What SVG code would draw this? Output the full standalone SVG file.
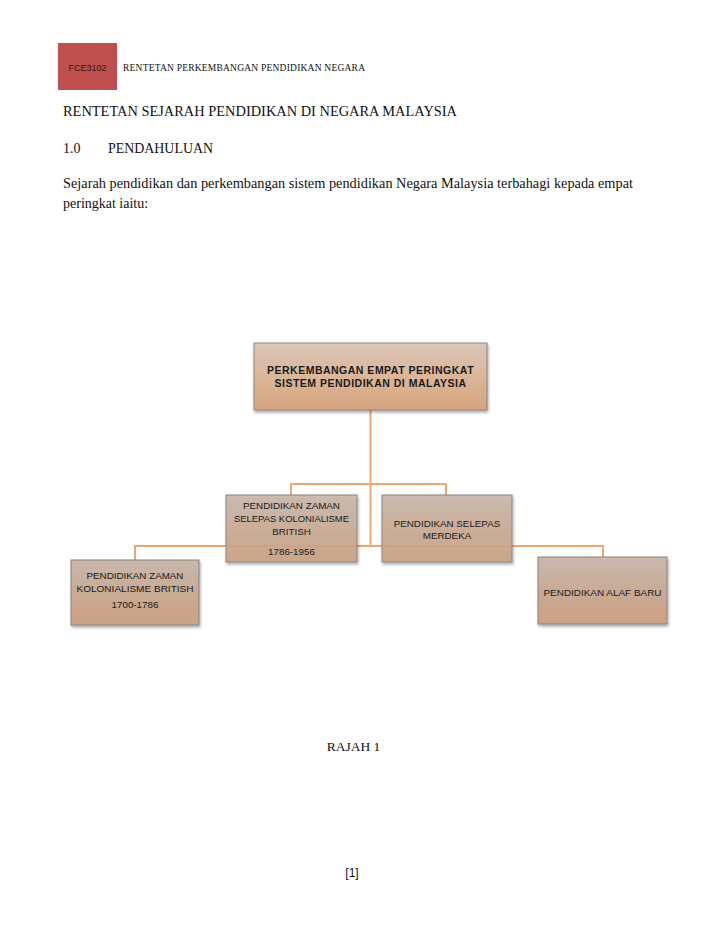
<svg xmlns="http://www.w3.org/2000/svg" width="728" height="942" viewBox="0 0 728 942">
<defs>
<linearGradient id="gTop" x1="0" y1="0" x2="0" y2="1">
<stop offset="0" stop-color="#d9c6b8"/>
<stop offset="0.5" stop-color="#dbb699"/>
<stop offset="1" stop-color="#d7a47e"/>
</linearGradient>
<linearGradient id="gBox" x1="0" y1="0" x2="0" y2="1">
<stop offset="0" stop-color="#c9b8ad"/>
<stop offset="0.5" stop-color="#c9ab95"/>
<stop offset="1" stop-color="#cba183"/>
</linearGradient>
<filter id="sh" x="-10%" y="-10%" width="130%" height="130%">
<feGaussianBlur in="SourceAlpha" stdDeviation="1.5"/>
<feOffset dx="1" dy="2" result="o"/>
<feComponentTransfer><feFuncA type="linear" slope="0.35"/></feComponentTransfer>
<feMerge><feMergeNode/><feMergeNode in="SourceGraphic"/></feMerge>
</filter>
</defs>
<style>
.serif{font-family:"Liberation Serif","Times New Roman",serif;fill:#111;}
.box{stroke:#8a8480;stroke-width:1;filter:url(#sh);}
.lbl{font-family:"Liberation Sans",Arial,sans-serif;font-size:9.8px;fill:#1a1a1a;text-anchor:middle;}
.hd{font-family:"Liberation Sans",Arial,sans-serif;font-weight:bold;font-size:10.5px;fill:#1a1a1a;text-anchor:middle;letter-spacing:0.5px;}
.con{fill:none;stroke:#efa772;stroke-width:2;}
</style>
<rect width="728" height="942" fill="#ffffff"/>
<!-- header -->
<rect x="58" y="43" width="59" height="47" fill="#c0504d"/>
<text x="87.5" y="71" font-family="Liberation Sans,Arial,sans-serif" font-size="9px" fill="#3b1515" text-anchor="middle">FCE3102</text>
<text x="123" y="71" class="serif" font-size="9.5px" textLength="242" lengthAdjust="spacing">RENTETAN PERKEMBANGAN PENDIDIKAN NEGARA</text>
<!-- body text -->
<text x="63" y="116" class="serif" font-size="14px" textLength="394" lengthAdjust="spacingAndGlyphs">RENTETAN SEJARAH PENDIDIKAN DI NEGARA MALAYSIA</text>
<text x="63" y="153" class="serif" font-size="14px">1.0</text>
<text x="108" y="153" class="serif" font-size="14px" textLength="105" lengthAdjust="spacingAndGlyphs">PENDAHULUAN</text>
<text x="63" y="188" class="serif" font-size="14px" textLength="570" lengthAdjust="spacingAndGlyphs">Sejarah pendidikan dan perkembangan sistem pendidikan Negara Malaysia terbahagi kepada empat</text>
<text x="63" y="208" class="serif" font-size="14px">peringkat iaitu:</text>
<!-- connectors -->
<g id="connectors">
<path class="con" d="M370.5,410 V546"/>
<path class="con" d="M291,495 V484 H446 V495"/>
<path class="con" d="M135,560 V546 H603 V557"/>
</g>
<!-- nodes -->
<g id="node-top">
<rect class="box" x="254" y="343" width="233" height="67" fill="url(#gTop)"/>
<text class="hd" x="370.5" y="374">PERKEMBANGAN EMPAT PERINGKAT</text>
<text class="hd" x="370.5" y="387">SISTEM PENDIDIKAN DI MALAYSIA</text>
</g>
<g id="node-selepas-kolonialisme">
<rect class="box" x="226" y="495" width="131" height="67" fill="url(#gBox)" fill-opacity="0.9"/>
<text class="lbl" x="291.5" y="509">PENDIDIKAN ZAMAN</text>
<text class="lbl" x="291.5" y="522" textLength="115" lengthAdjust="spacingAndGlyphs">SELEPAS KOLONIALISME</text>
<text class="lbl" x="291.5" y="535">BRITISH</text>
<text class="lbl" x="291.5" y="555">1786-1956</text>
</g>
<g id="node-merdeka">
<rect class="box" x="382" y="495" width="130" height="67" fill="url(#gBox)" fill-opacity="0.9"/>
<text class="lbl" x="447" y="527">PENDIDIKAN SELEPAS</text>
<text class="lbl" x="447" y="539">MERDEKA</text>
</g>
<g id="node-kolonialisme">
<rect class="box" x="71" y="560" width="128" height="65" fill="url(#gBox)"/>
<text class="lbl" x="135" y="579">PENDIDIKAN ZAMAN</text>
<text class="lbl" x="135" y="592" textLength="117" lengthAdjust="spacingAndGlyphs">KOLONIALISME BRITISH</text>
<text class="lbl" x="135" y="608">1700-1786</text>
</g>
<g id="node-alaf-baru">
<rect class="box" x="538" y="557" width="129" height="67" fill="url(#gBox)"/>
<text class="lbl" x="602.5" y="596" textLength="118" lengthAdjust="spacingAndGlyphs">PENDIDIKAN ALAF BARU</text>
</g>
<text x="353.5" y="751" class="serif" font-size="13.5px" text-anchor="middle">RAJAH 1</text>
<text x="352" y="877" font-family="Liberation Sans,Arial,sans-serif" font-size="12px" fill="#111" text-anchor="middle">[1]</text>
</svg>
